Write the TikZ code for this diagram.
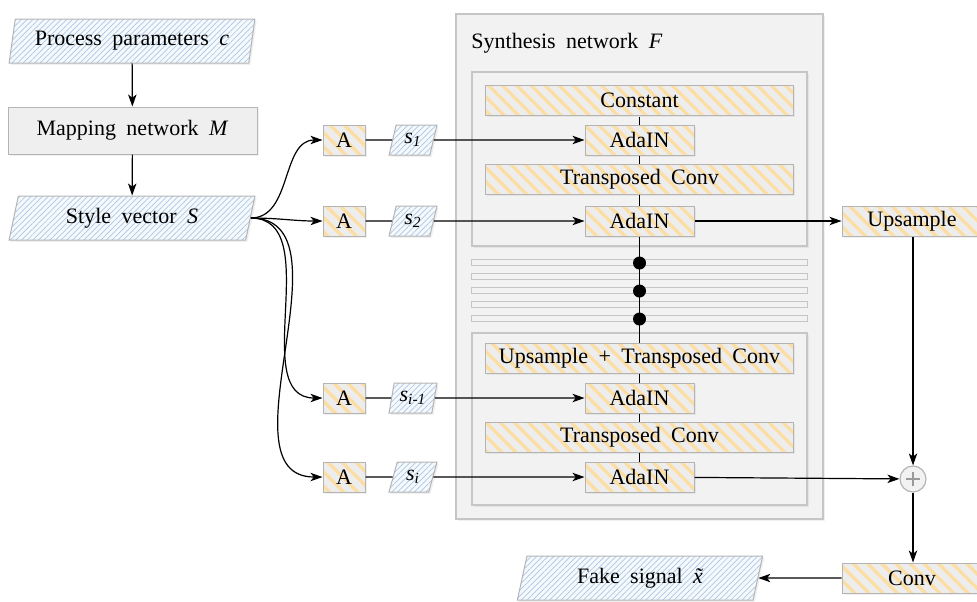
\documentclass[tikz,border=0pt]{standalone}
\usepackage{fontspec}
\setmainfont[WordSpace={1.9,1.5,1}]{Liberation Serif}
\usetikzlibrary{shapes.geometric,arrows.meta,patterns.meta,shadows}
\definecolor{boxgray}{HTML}{EDEDED}
\definecolor{orstripe}{HTML}{FCDDA2}
\definecolor{bordergray}{HTML}{B4B4B4}
\definecolor{mapgray}{HTML}{EFEFEF}
\definecolor{bluebase}{HTML}{F6F9FC}
\definecolor{bluestripe}{HTML}{A9C7E6}
\definecolor{contfill}{HTML}{F2F2F2}
\definecolor{contborder}{HTML}{C6C6C6}
\definecolor{plusgray}{HTML}{9A9A9A}
\begin{document}
\begin{tikzpicture}[x=0.5pt,y=-0.5pt,
  base/.style={font=\rmfamily\fontsize{11}{13}\selectfont, inner sep=0pt, text=black},
  shad/.style={drop shadow={opacity=0.12, shadow xshift=0.9pt, shadow yshift=-0.9pt}},
  obox/.style={base, rectangle, shad, preaction={fill=boxgray}, draw=bordergray, line width=0.5pt,
    pattern={Lines[angle=-45,distance=5pt,line width=1.6pt]}, pattern color=orstripe, minimum height=15pt},
  bpar/.style={base, trapezium, trapezium left angle=75, trapezium right angle=105, trapezium stretches=true,
    shad, preaction={fill=bluebase}, draw=bordergray, line width=0.5pt,
    pattern={Lines[angle=45,distance=2pt,line width=0.35pt]}, pattern color=bluestripe},
  gbox/.style={base, rectangle, shad, fill=mapgray, draw=bordergray, line width=0.5pt},
  cont/.style={rectangle, inner sep=0pt, fill=contfill, draw=contborder, line width=0.6pt},
  bar/.style={rectangle, inner sep=0pt, fill=contfill, draw=contborder, line width=0.5pt, minimum width=168pt, minimum height=3pt},
  dot/.style={circle, fill=black, inner sep=0pt, minimum size=6.5pt},
  arr/.style={-{Stealth[length=6pt,width=4.2pt,inset=1.6pt]}, line width=0.6pt, black},
  ln/.style={line width=0.6pt, black},
  vl/.style={line width=0.5pt, black}
]
\useasboundingbox (0,0) rectangle (977,601);

% left column
\node[bpar, minimum width=123pt, minimum height=22pt] (pp) at (132,41) {Process parameters \textit{c}};
\node[gbox, minimum width=124.5pt, minimum height=23.5pt] (map) at (132.5,130.5) {Mapping network \textit{M}};
\node[bpar, minimum width=123pt, minimum height=22pt] (sv) at (132,218) {Style vector \textit{S}};

% synthesis container
\node[cont, shad, minimum width=183.5pt, minimum height=252.5pt] (synth) at (639.5,266.5) {};
\node[base, anchor=west] (synthlabel) at (471,43) {Synthesis network \textit{F}};
\node[cont, shad, minimum width=167.5pt, minimum height=87pt] (in1) at (639.5,159) {};
\node[cont, shad, minimum width=167.5pt, minimum height=86pt] (in2) at (639.5,419) {};
\foreach \y [count=\i] in {262,276,290,304,318}
  \node[bar] (bar\i) at (639.5,\y) {};

% synthesis blocks
\node[obox, minimum width=154pt] (const) at (639.5,100) {Constant};
\node[obox, minimum width=54.5pt] (ada1) at (639.5,140) {AdaIN};
\node[obox, minimum width=154pt] (tc1) at (639.5,179) {Transposed Conv};
\node[obox, minimum width=54.5pt] (ada2) at (639.5,221) {AdaIN};
\node[obox, minimum width=154pt] (utc) at (639.5,358) {Upsample + Transposed Conv};
\node[obox, minimum width=54.5pt] (ada3) at (639.5,398) {AdaIN};
\node[obox, minimum width=154pt] (tc2) at (639.5,437) {Transposed Conv};
\node[obox, minimum width=54.5pt] (ada4) at (639.5,477) {AdaIN};

% vertical chain
\draw[vl] (const) -- (ada1);
\draw[vl] (ada1) -- (tc1);
\draw[vl] (tc1) -- (ada2);
\draw[ln] (ada2) -- (utc);
\draw[vl] (utc) -- (ada3);
\draw[vl] (ada3) -- (tc2);
\draw[vl] (tc2) -- (ada4);
\node[dot] (d1) at (639.5,263) {};
\node[dot] (d2) at (639.5,291) {};
\node[dot] (d3) at (639.5,319) {};

% A boxes and style parts
\foreach \y/\n/\lab in {140/1/{1}, 221/2/{2}, 398/3/{i-1}, 477/4/{i}} {
  \node[obox, minimum width=21pt] (A\n) at (344,\y) {A};
  \node[bpar, minimum width=24pt, minimum height=15pt] (s\n) at (413,\y) {\textit{s}\textsubscript{\textit{\lab}}};
  \draw[ln] (A\n) -- (s\n);
  \draw[arr] (s\n) -- (ada\n);
  \draw[arr] (sv.east) to[out=0,in=180] (A\n.west);
}

% right column
\node[obox, minimum width=70pt] (ups) at (912,221) {Upsample};
\node[circle, inner sep=0pt, minimum size=13pt, fill=contfill, draw=bordergray, line width=0.6pt] (plus) at (913,479) {};
\draw[plusgray, line width=1.4pt] ([xshift=-3.6pt]plus.center) -- ([xshift=3.6pt]plus.center);
\draw[plusgray, line width=1.4pt] ([yshift=-3.6pt]plus.center) -- ([yshift=3.6pt]plus.center);
\node[obox, minimum width=70pt] (conv) at (912,578) {Conv};
\node[bpar, minimum width=123pt, minimum height=22pt] (fake) at (640,578) {Fake signal {\itshape x\llap{\char"02DC\kern0.05em}}};

% arrows
\draw[arr] (pp) -- (map);
\draw[arr] (map) -- (sv);
\draw[arr] (ada2) -- (ups);
\draw[arr] (ups.south -| plus) -- (plus);
\draw[arr] (ada4) -- (plus);
\draw[arr] (plus) -- (conv.north -| plus);
\draw[arr] (conv) -- (fake);
\end{tikzpicture}
\end{document}
